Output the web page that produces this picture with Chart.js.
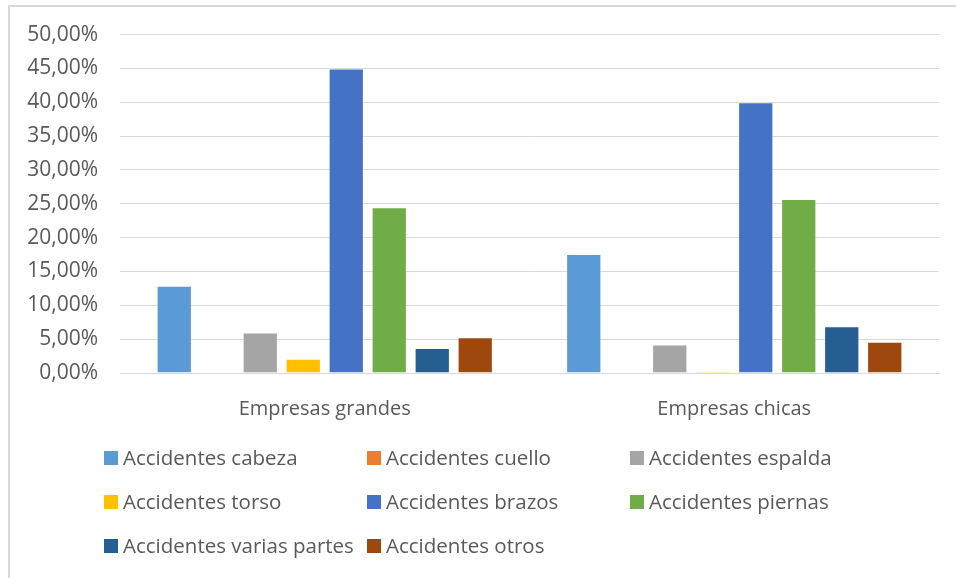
<!DOCTYPE html>
<html>
<head>
<meta charset="utf-8">
<script src="https://cdn.jsdelivr.net/npm/chart.js@4.4.1/dist/chart.umd.min.js"></script>
<style>
  html, body { margin: 0; padding: 0; background: #fff; }
  #wrap { position: relative; width: 956px; height: 578px; }
</style>
</head>
<body>
<div id="wrap"><canvas id="bar-chart" width="956" height="578"></canvas></div>
<script>
const empresas = ['Empresas grandes', 'Empresas chicas']
const partes = [
  'Accidentes cabeza',
  'Accidentes cuello',
  'Accidentes espalda',
  'Accidentes torso',
  'Accidentes brazos',
  'Accidentes piernas',
  'Accidentes varias partes',
  'Accidentes otros',
]
const colores = ['#5B9BD5', '#ED7D31', '#A5A5A5', '#FFC000', '#4472C4', '#70AD47', '#255E91', '#9E480E']

// porcentaje por empresa: [grandes, chicas]
const cabeza = [12.9, 17.6]
const cuello = [0, 0]
const espalda = [6.0, 4.2]
const torso = [2.1, 0.2]
const brazos = [45.0, 40.0]
const piernas = [24.5, 25.7]
const varias = [3.7, 6.9]
const otros = [5.3, 4.6]
const valores = [cabeza, cuello, espalda, torso, brazos, piernas, varias, otros]

const FONT = "'Open Sans', 'DejaVu Sans', sans-serif"
const GRIS = '#595959'
const LINEA = '#d9d9d9'

// marco exterior y leyenda en cuadricula de 3 columnas
const marcoLeyenda = {
  id: 'marcoLeyenda',
  beforeDraw(chart) {
    const c = chart.ctx
    c.save()
    c.strokeStyle = LINEA
    c.lineWidth = 2
    c.beginPath()
    c.moveTo(9, 578)
    c.lineTo(9, 6)
    c.lineTo(956, 6)
    c.stroke()
    c.restore()
  },
  afterDraw(chart) {
    const c = chart.ctx
    c.save()
    c.font = '20.5px ' + FONT
    c.textBaseline = 'middle'
    chart.data.datasets.forEach((ds, i) => {
      const col = i % 3
      const row = Math.floor(i / 3)
      const x = 104 + col * 263
      const y = 458 + row * 44
      c.fillStyle = ds.backgroundColor
      c.fillRect(x, y - 7, 14, 14)
      c.fillStyle = GRIS
      c.fillText(ds.label, x + 19, y + 1)
    })
    c.restore()
  },
}

new Chart(document.getElementById('bar-chart'), {
  type: 'bar',
  data: {
    labels: empresas,
    datasets: partes.map((p, i) => ({
      label: p,
      data: valores[i],
      backgroundColor: colores[i],
      borderColor: 'rgba(255,255,255,0.25)',
      borderWidth: 1,
      categoryPercentage: 0.84,
      barPercentage: 0.82,
    })),
  },
  options: {
    responsive: false,
    animation: false,
    layout: {
      padding: { top: 34, left: 0, right: 17, bottom: 145 },
    },
    scales: {
      x: {
        grid: { display: false },
        border: { color: LINEA, width: 1 },
        ticks: {
          font: { size: 20, family: FONT },
          color: GRIS,
          padding: 16,
        },
        afterFit(s) {
          s.height = 60
        },
      },
      y: {
        min: 0,
        max: 50,
        grid: { color: LINEA, drawTicks: false },
        border: { display: false },
        ticks: {
          stepSize: 5,
          font: { size: 21, family: FONT },
          color: GRIS,
          padding: 22,
          callback: (v) => v.toFixed(2).replace('.', ',') + '%',
        },
        afterFit(s) {
          s.width = 120
        },
      },
    },
    plugins: {
      legend: { display: false },
      tooltip: { enabled: false },
    },
  },
  plugins: [marcoLeyenda],
})
</script>
</body>
</html>
